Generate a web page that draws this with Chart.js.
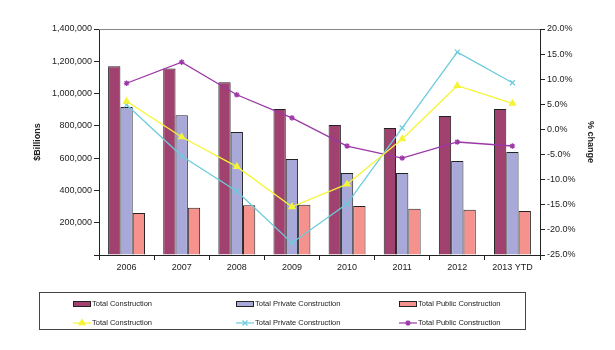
<!DOCTYPE html>
<html lang="en">
<head>
    <meta charset="UTF-8">
    <title>Construction Spending</title>
    <script src="https://cdn.jsdelivr.net/npm/chart.js"></script>
    <style>
        body { margin: 0; background: #fff; font-family: "Liberation Sans", Arial, sans-serif; }
        #wrap { position: relative; width: 615px; height: 350px; }
        #legend { position: absolute; left: 39px; top: 292px; width: 487px; height: 38px; border: 1px solid #444; box-sizing: border-box; }
        .item { position: absolute; font-size: 7.5px; color: #222; white-space: nowrap; }
        .sw { display: inline-block; width: 16px; height: 4px; border: 1px solid #222; vertical-align: middle; margin-right: 1px; }
        .item canvas { vertical-align: middle; margin-right: 1px; }
    </style>
</head>
<body>
<div id="wrap">
    <canvas id="chart" width="615" height="350"></canvas>
    <div id="legend"></div>
</div>
<script>
    const years = ["2006", "2007", "2008", "2009", "2010", "2011", "2012", "2013 YTD"];

    // $ billions (bars, left axis)
    const totalConstruction = [1170000, 1155000, 1070000, 904000, 805000, 787000, 861000, 904000];
    const privateConstruction = [917000, 866000, 762000, 594000, 508000, 508000, 582000, 638000];
    const publicConstruction = [260000, 292000, 308000, 312000, 304000, 286000, 280000, 272000];

    // % change (lines, right axis)
    const totalChange = [5.6, -1.5, -7.4, -15.4, -10.9, -1.9, 8.7, 5.2];
    const privateChange = [4.9, -5.3, -12.3, -22.6, -14.8, 0.3, 15.4, 9.3];
    const publicChange = [9.2, 13.4, 6.9, 2.3, -3.3, -5.7, -2.5, -3.3];

    const barColors = ["#a0416f", "#a9a9d9", "#f5928e"];
    const lineColors = ["#f5f534", "#6ccbdc", "#9b37a6"];
    const markers = ["triangle", "crossRot", "star"];
    const markerSize = [3.5, 3.5, 2.8];

    const fontFam = "'Liberation Sans', Arial, sans-serif";

    function barSet(label, data, color) {
        return { type: "bar", label: label, data: data, backgroundColor: color,
                 borderColor: "#222", borderWidth: 1, yAxisID: "y", order: 1,
                 categoryPercentage: 0.67, barPercentage: 1 };
    }
    function lineSet(label, data, color, marker, size) {
        return { type: "line", label: label, data: data, borderColor: color, backgroundColor: color,
                 borderWidth: 1.3, pointStyle: marker, pointRadius: size, pointBorderWidth: 1.2,
                 yAxisID: "y1", order: 0, tension: 0 };
    }

    // gray line along the top of the plot area
    const topLine = {
        id: "topLine",
        afterDraw(chart) {
            const a = chart.chartArea, c = chart.ctx;
            c.save();
            c.strokeStyle = "#888";
            c.lineWidth = 1;
            c.beginPath();
            c.moveTo(a.left, a.top + 0.5);
            c.lineTo(a.right, a.top + 0.5);
            c.stroke();
            c.restore();
        }
    };

    const chart = new Chart(document.getElementById("chart"), {
        data: {
            labels: years,
            datasets: [
                barSet("Total Construction", totalConstruction, barColors[0]),
                barSet("Total Private Construction", privateConstruction, barColors[1]),
                barSet("Total Public Construction", publicConstruction, barColors[2]),
                lineSet("Total Construction", totalChange, lineColors[0], markers[0], markerSize[0]),
                lineSet("Total Private Construction", privateChange, lineColors[1], markers[1], markerSize[1]),
                lineSet("Total Public Construction", publicChange, lineColors[2], markers[2], markerSize[2])
            ]
        },
        options: {
            responsive: false,
            animation: false,
            layout: { padding: { left: 32, right: 19, top: 29, bottom: 75 } },
            plugins: { legend: { display: false }, tooltip: { enabled: false } },
            scales: {
                x: {
                    grid: { display: true, drawOnChartArea: false, drawTicks: true, tickLength: 5, color: "#222", offset: true },
                    border: { display: true, color: "#222" },
                    ticks: { color: "#222", font: { family: fontFam, size: 9 }, padding: 2, maxRotation: 0 },
                    afterFit(s) { s.height = 20; }
                },
                y: {
                    position: "left", min: 0, max: 1400000,
                    grid: { drawOnChartArea: false, tickLength: 5, color: "#222" },
                    border: { display: true, color: "#222" },
                    ticks: { stepSize: 200000, color: "#222", font: { family: fontFam, size: 9 }, padding: 2,
                             callback: v => v === 0 ? "" : v.toLocaleString("en-US") },
                    title: { display: true, text: "$Billions", color: "#222", font: { family: fontFam, size: 9, weight: "bold" }, padding: 0 },
                    afterFit(s) { s.width = 67; }
                },
                y1: {
                    position: "right", min: -25, max: 20,
                    grid: { drawOnChartArea: false, tickLength: 5, color: "#222" },
                    border: { display: true, color: "#222" },
                    ticks: { stepSize: 5, color: "#222", font: { family: fontFam, size: 9 }, padding: 2,
                             callback: v => v.toFixed(1) + "%" },
                    title: { display: true, text: "% change", color: "#222", font: { family: fontFam, size: 9, weight: "bold" }, padding: 0 },
                    afterFit(s) { s.width = 56; }
                }
            }
        },
        plugins: [topLine]
    });

    // HTML legend, 3 columns x 2 rows
    const legend = document.getElementById("legend");
    const colX = [33, 196, 359];
    chart.data.datasets.forEach((ds, i) => {
        const item = document.createElement("div");
        item.className = "item";
        item.style.left = colX[i % 3] + "px";
        item.style.top = (i < 3 ? 6 : 25) + "px";
        if (ds.type === "bar") {
            const sw = document.createElement("span");
            sw.className = "sw";
            sw.style.background = ds.backgroundColor;
            item.appendChild(sw);
        } else {
            const cv = document.createElement("canvas");
            cv.width = 18; cv.height = 8;
            const c = cv.getContext("2d");
            c.strokeStyle = ds.borderColor;
            c.lineWidth = 1.2;
            c.beginPath(); c.moveTo(0, 4); c.lineTo(18, 4); c.stroke();
            c.fillStyle = ds.backgroundColor;
            Chart.helpers.drawPoint(c, { pointStyle: ds.pointStyle, radius: ds.pointRadius, borderWidth: 1.2 }, 9, 4);
            item.appendChild(cv);
        }
        item.appendChild(document.createTextNode(ds.label));
        legend.appendChild(item);
    });
</script>
</body>
</html>
